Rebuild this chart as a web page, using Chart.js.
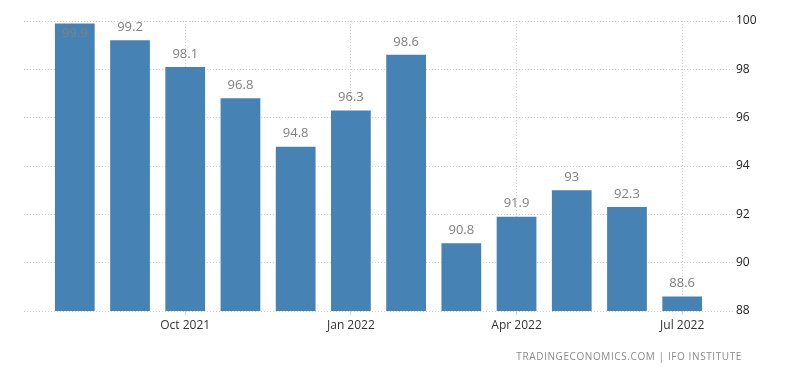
<!DOCTYPE html>
<html>
<head>
<meta charset="utf-8">
<script src="https://cdn.jsdelivr.net/npm/chart.js@4.4.0/dist/chart.umd.min.js"></script>
<style>
  body { margin: 0; background: #fff; }
  #wrap { position: relative; width: 800px; height: 373px; }
  #source {
    position: absolute; right: 58px; top: 349px;
    font: 10px "Open Sans", sans-serif; letter-spacing: 0.6px;
    color: #8a8a8a;
  }
</style>
</head>
<body>
<div id="wrap">
  <canvas id="chart" width="800" height="373"></canvas>
  <div id="source">TRADINGECONOMICS.COM | IFO INSTITUTE</div>
</div>
<script>
// months Aug 2021 .. Jul 2022
const months = ["Aug 2021", "Sep 2021", "Oct 2021", "Nov 2021", "Dec 2021", "Jan 2022",
                "Feb 2022", "Mar 2022", "Apr 2022", "May 2022", "Jun 2022", "Jul 2022"];
const values = [99.9, 99.2, 98.1, 96.8, 94.8, 96.3, 98.6, 90.8, 91.9, 93, 92.3, 88.6];
const tickMonths = [2, 5, 8, 11];
const yTicks = [88, 90, 92, 94, 96, 98, 100];

const points = values.map((v, i) => ({ x: i, y: v }));

const valueLabels = {
    id: "valueLabels",
    afterDatasetsDraw(chart) {
        const ctx = chart.ctx;
        const meta = chart.getDatasetMeta(0);
        ctx.save();
        ctx.font = "13px 'Open Sans', sans-serif";
        ctx.fillStyle = "#808080";
        ctx.textAlign = "center";
        ctx.textBaseline = "middle";
        meta.data.forEach((bar, i) => {
            let y = bar.y - 13;
            if (y < chart.chartArea.top + 6) y = bar.y + 10;
            ctx.fillText(String(values[i]), bar.x, y);
        });
        ctx.restore();
    }
};

const ctx = document.getElementById("chart").getContext("2d");

new Chart(ctx, {
    type: "bar",
    data: {
        datasets: [{
            data: points,
            backgroundColor: "#4682b4",
            borderWidth: 0,
            barPercentage: 0.8,
            categoryPercentage: 0.9
        }]
    },
    options: {
        responsive: false,
        animation: false,
        layout: { padding: { left: 24, top: 21, right: 0, bottom: 0 } },
        plugins: {
            legend: { display: false },
            tooltip: { enabled: false }
        },
        scales: {
            x: {
                type: "linear",
                offset: false,
                min: -0.92,
                max: 11.92,
                afterBuildTicks: (axis) => {
                    axis.ticks = tickMonths.map(v => ({ value: v }));
                },
                afterFit: (axis) => { axis.height = 62; },
                ticks: {
                    callback: (v) => months[v],
                    color: "#333",
                    font: { family: "'Open Sans', sans-serif", size: 12 },
                    padding: 3,
                    maxRotation: 0,
                    autoSkip: false
                },
                grid: {
                    offset: false,
                    color: "#d0d0d0",
                    tickLength: 4,
                    tickColor: "#d0d0d0"
                },
                border: { display: false, dash: [1, 2] }
            },
            y: {
                position: "right",
                min: 88,
                max: 100,
                afterBuildTicks: (axis) => {
                    axis.ticks = yTicks.map(v => ({ value: v }));
                },
                afterFit: (axis) => { axis.width = 67; },
                ticks: {
                    color: "#222",
                    font: { family: "'Open Sans', sans-serif", size: 12 },
                    padding: 3
                },
                grid: {
                    color: "#d0d0d0",
                    drawTicks: false
                },
                border: { display: false, dash: [1, 2] }
            }
        }
    },
    plugins: [valueLabels]
});
</script>
</body>
</html>
